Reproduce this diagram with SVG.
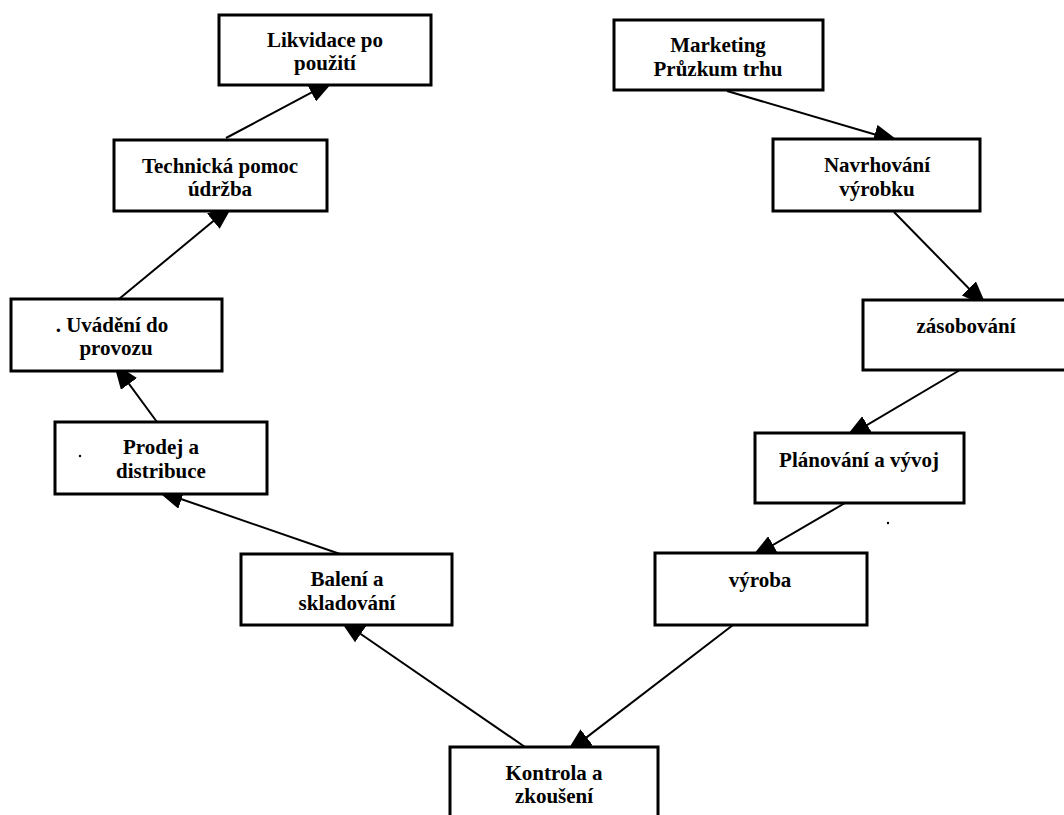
<svg xmlns="http://www.w3.org/2000/svg" width="1064" height="815" viewBox="0 0 1064 815">
  <defs>
    <style>
      .box { fill: #ffffff; stroke: #000000; stroke-width: 3; }
      .lbl { font-family: "Liberation Serif", "Times New Roman", serif; font-weight: bold; font-size: 21px; fill: #000000; text-anchor: middle; }
      .edge { stroke: #000000; stroke-width: 2; fill: none; marker-end: url(#head); }
    </style>
    <marker id="head" markerUnits="userSpaceOnUse" viewBox="0 0 26 20" refX="26" refY="10" markerWidth="26" markerHeight="20" orient="auto">
      <path d="M0,0 L26,10 L0,20 z" fill="#000000"/>
    </marker>
  </defs>

  <rect width="1064" height="815" fill="#ffffff"/>

  <!-- connectors: drawn first so the boxes hide the arrow tips -->
  <g id="connectors">
    <line class="edge" x1="727" y1="91" x2="899.6" y2="141.8"/>
    <line class="edge" x1="894" y1="212" x2="987" y2="307"/>
    <line class="edge" x1="960" y1="370" x2="844.9" y2="438.1"/>
    <line class="edge" x1="845" y1="503" x2="750.7" y2="558"/>
    <line class="edge" x1="733" y1="625" x2="566" y2="753.1"/>
    <line class="edge" x1="525" y1="747" x2="339.3" y2="619.3"/>
    <line class="edge" x1="340" y1="554" x2="157" y2="490.7"/>
    <line class="edge" x1="157" y1="422" x2="113.6" y2="362.9"/>
    <line class="edge" x1="119" y1="299" x2="233.3" y2="204.6"/>
    <line class="edge" x1="226" y1="138" x2="334.3" y2="80.3"/>
  </g>

  <g id="likvidace">
    <rect class="box" x="219" y="15" width="212" height="70"/>
    <text class="lbl" x="325" y="47">Likvidace po</text>
    <text class="lbl" x="325" y="70">použití</text>
  </g>

  <g id="marketing">
    <rect class="box" x="614" y="20" width="209" height="70"/>
    <text class="lbl" x="718" y="52">Marketing</text>
    <text class="lbl" x="718" y="76">Průzkum trhu</text>
  </g>

  <g id="technicka-pomoc">
    <rect class="box" x="114" y="140" width="213" height="71"/>
    <text class="lbl" x="220" y="173">Technická pomoc</text>
    <text class="lbl" x="220" y="196">údržba</text>
  </g>

  <g id="navrhovani">
    <rect class="box" x="773" y="139" width="207" height="72"/>
    <text class="lbl" x="877" y="172">Navrhování</text>
    <text class="lbl" x="877" y="196">výrobku</text>
  </g>

  <g id="uvadeni">
    <rect class="box" x="11" y="299" width="211" height="72"/>
    <text class="lbl" x="112" y="332">. Uvádění do</text>
    <text class="lbl" x="116" y="355">provozu</text>
  </g>

  <g id="zasobovani">
    <rect class="box" x="863" y="300" width="208" height="70"/>
    <text class="lbl" x="966" y="333">zásobování</text>
  </g>

  <g id="prodej">
    <rect class="box" x="55" y="422" width="212" height="72"/>
    <text class="lbl" x="161" y="454">Prodej a</text>
    <text class="lbl" x="161" y="478">distribuce</text>
    <circle cx="80" cy="456" r="1.2" fill="#000000"/>
  </g>

  <g id="planovani">
    <rect class="box" x="755" y="433" width="209" height="70"/>
    <text class="lbl" x="859" y="467">Plánování a vývoj</text>
  </g>

  <g id="baleni">
    <rect class="box" x="241" y="554" width="211" height="71"/>
    <text class="lbl" x="347" y="586">Balení a</text>
    <text class="lbl" x="347" y="610">skladování</text>
  </g>

  <g id="vyroba">
    <rect class="box" x="655" y="553" width="212" height="72"/>
    <text class="lbl" x="760" y="587">výroba</text>
  </g>

  <g id="kontrola">
    <rect class="box" x="450" y="747" width="208" height="80"/>
    <text class="lbl" x="554" y="780">Kontrola a</text>
    <text class="lbl" x="554" y="803">zkoušení</text>
  </g>

  <circle cx="888" cy="523" r="1.2" fill="#000000"/>
</svg>
